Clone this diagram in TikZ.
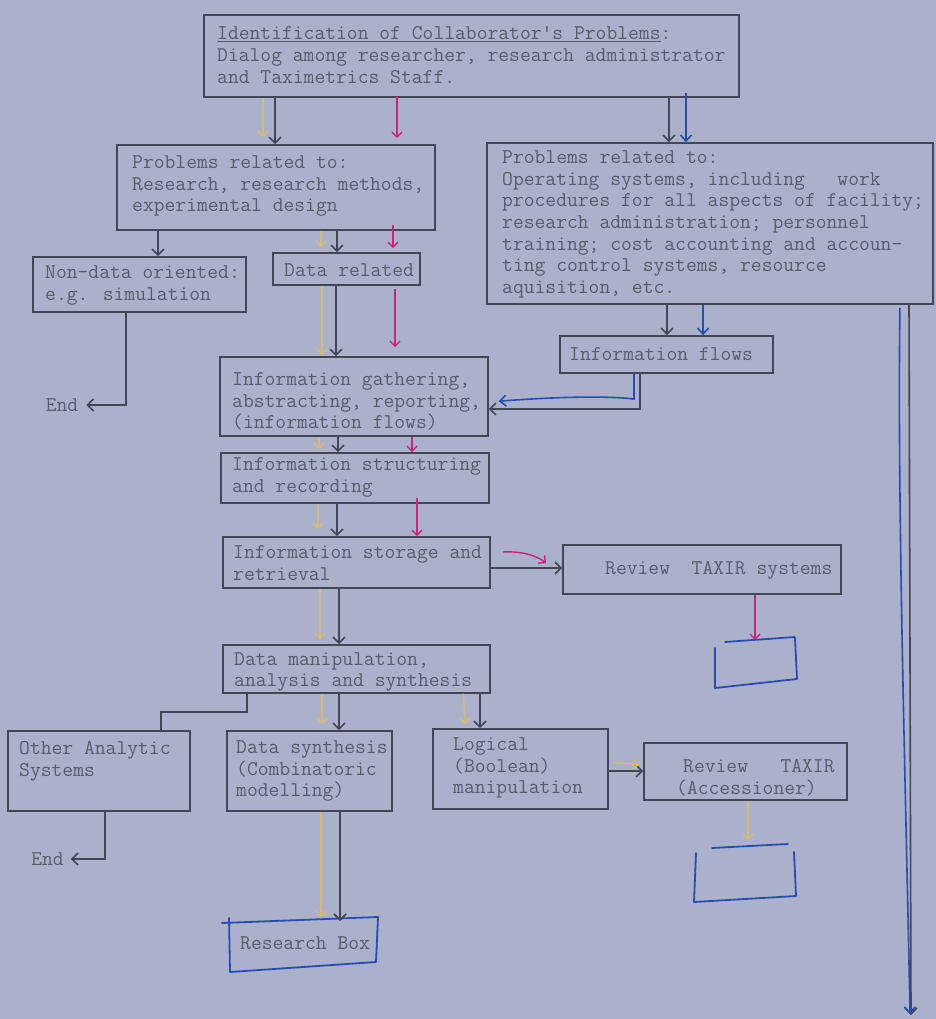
\documentclass[tikz,border=0pt]{standalone}
\usetikzlibrary{arrows.meta,calc}
\definecolor{bg}{RGB}{171,177,202}
\definecolor{linec}{RGB}{66,70,86}
\definecolor{txtc}{RGB}{88,92,108}
\definecolor{yel}{RGB}{216,186,116}
\definecolor{mag}{RGB}{200,38,125}
\definecolor{blu}{RGB}{38,78,176}
\begin{document}
\begin{tikzpicture}[x=1pt,y=-1pt,
  bx/.style={draw=linec,line width=1.6pt,inner sep=0pt},
  tx/.style={font=\ttfamily\fontsize{21}{21.6}\selectfont,text=txtc,align=left,inner sep=0pt,anchor=west},
  gar/.style={draw=linec,line width=1.6pt,-{Straight Barb[length=6pt,width=12pt]}},
  gline/.style={draw=linec,line width=1.6pt},
  yar/.style={draw=yel,line width=1.5pt,-{Straight Barb[length=5pt,width=10pt]}},
  mar/.style={draw=mag,line width=1.4pt,-{Straight Barb[length=5pt,width=10pt]}},
  bar/.style={draw=blu,line width=1.6pt,-{Straight Barb[length=6pt,width=11pt]}},
  bl/.style={draw=blu,line width=1.8pt,line cap=round,line join=round}
]
\useasboundingbox (0,0) rectangle (936,1019);
\fill[bg] (0,0) rectangle (936,1019);

% boxes
\node[bx,minimum width=535pt,minimum height=82pt] (top) at (471.5,56) {};
\node[bx,minimum width=318pt,minimum height=85pt] (lp) at (276,187.5) {};
\node[bx,minimum width=446pt,minimum height=161pt] (rp) at (710,223.5) {};
\node[bx,minimum width=213pt,minimum height=55pt] (nd) at (139.5,284.5) {};
\node[bx,minimum width=147pt,minimum height=32pt] (dr) at (346.5,269) {};
\node[bx,minimum width=213pt,minimum height=37pt] (inf) at (666.5,354.5) {};
\node[bx,minimum width=268pt,minimum height=79pt] (ga) at (354,396.5) {};
\node[bx,minimum width=268pt,minimum height=50pt] (st) at (355,478) {};
\node[bx,minimum width=267pt,minimum height=51pt] (sr) at (356.5,562.5) {};
\node[bx,minimum width=278pt,minimum height=49pt] (rv) at (702,569.5) {};
\node[bx,minimum width=267pt,minimum height=48pt] (dm) at (356.5,669) {};
\node[bx,minimum width=182pt,minimum height=80pt] (oa) at (99,771) {};
\node[bx,minimum width=165pt,minimum height=80pt] (sy) at (309.5,771) {};
\node[bx,minimum width=175pt,minimum height=80pt] (lg) at (520.5,769) {};
\node[bx,minimum width=203pt,minimum height=57pt] (ac) at (745.5,771.5) {};

% texts
\node[tx] (toptx) at (217,55) {\underline{Identification of Collaborator's Problems}:\\Dialog among researcher, research administrator\\and Taximetrics Staff.};
\node[tx] (lptx) at (132,186.3) {Problems related to:\\Research, research methods,\\experimental design};
\node[tx] (rptx) at (502,224.5) {Problems related to:\\Operating systems, including~~~work\\procedures for all aspects of facility;\\research administration; personnel\\training; cost accounting and accoun-\\ting control systems, resource\\aquisition, etc.};
\node[tx] (ndtx) at (45,285.5) {Non-data oriented:\\e.g. simulation};
\node[tx] (drtx) at (284,270) {Data related};
\node[tx] (inftx) at (569,354) {Information flows};
\node[tx] (gatx) at (232,401.7) {Information gathering,\\abstracting, reporting,\\(information flows)};
\node[tx] (sttx) at (232,477.5) {Information structuring\\and recording};
\node[tx] (srtx) at (233,563) {Information storage and\\retrieval};
\node[tx] (rvtx) at (605,570) {Review~~TAXIR systems};
\node[tx] (dmtx) at (234,672) {Data manipulation,\\analysis and synthesis};
\node[tx] (oatx) at (19,761.5) {Other Analytic\\Systems};
\node[tx] (sytx) at (236,771) {Data synthesis\\(Combinatoric\\modelling)};
\node[tx] (lgtx) at (453,768) {Logical\\(Boolean)\\manipulation};
\node[tx] (actx) at (676,777.5) {\hspace*{7pt}Review~~~TAXIR\\(Accessioner)};
\node[tx] (rbtx) at (240,943) {Research Box};
\node[tx,anchor=center,inner xsep=8pt] (e1) at (62,405) {End};
\node[tx,anchor=center,inner xsep=7pt] (e2) at (47.5,859) {End};

% hand-drawn blue boxes
\draw[bl] (725,642) -- (795,637);
\draw[bl] (715,648) -- (715,688) -- (797,679) -- (795,638);
\draw[bl] (712,848) -- (788,844);
\draw[bl] (696,853) -- (694,902) -- (796,896) -- (794,852);
\draw[bl] (222,923) -- (378,917) -- (376,962) -- (230,972) -- (229,918);

% free ends
\coordinate (rbt1) at (340,921);
\coordinate (rbt2) at (321,917);
\coordinate (b1t) at (755,640);
\coordinate (b2t) at (748,840);
\coordinate (endg) at (911,1015);
\coordinate (endb) at (910,1014);
\coordinate (m1) at (503,552);
\coordinate (m2) at (546,563);

% top -> left problems
\draw[yar,shorten >=7pt] (263,0 |- top.south) -- (263,0 |- lp.north);
\draw[gar] (275,0 |- top.south) -- (275,0 |- lp.north);
\draw[mar,shorten <=-2pt,shorten >=6pt] (397,0 |- top.south) -- (397,0 |- lp.north);
% top -> right problems
\draw[gar] (669,0 |- top.south) -- (669,0 |- rp.north);
\draw[bar,shorten <=-5pt] (686,0 |- top.south) -- (686,0 |- rp.north);
% left problems -> non-data / data related
\draw[gar] (158,0 |- lp.south) -- (158,0 |- nd.north);
\draw[yar,shorten >=5pt] (321,0 |- lp.south) -- (321,0 |- dr.north);
\draw[gar] (337,0 |- lp.south) -- (337,0 |- dr.north);
\draw[mar,shorten <=-6pt,shorten >=4pt] (393,0 |- lp.south) -- (393,0 |- dr.north);
% non-data -> End
\draw[gar] (126,0 |- nd.south) |- (e1.east);
% data related -> gathering
\draw[yar,shorten >=1pt] (322,0 |- dr.south) -- (322,0 |- ga.north);
\draw[gar] (336,0 |- dr.south) -- (336,0 |- ga.north);
\draw[mar,shorten <=3pt,shorten >=9pt] (395,0 |- dr.south) -- (395,0 |- ga.north);
% right problems -> information flows
\draw[gar] (667,0 |- rp.south) -- (667,0 |- inf.north);
\draw[bar] (703,0 |- rp.south) -- (703,0 |- inf.north);
% information flows -> gathering
\draw[gar] (640,0 |- inf.south) |- (ga.east |- 0,409);
\draw[bar,shorten >=10pt] (634,0 |- inf.south) -- (634,399) .. controls (600,395) and (540,398) .. (ga.east |- 0,402);
% gathering -> structuring
\draw[yar,shorten >=3pt] (319,0 |- ga.south) -- (319,0 |- st.north);
\draw[gar] (338,0 |- ga.south) -- (338,0 |- st.north);
\draw[mar] (412,0 |- ga.south) -- (412,0 |- st.north);
% structuring -> storage
\draw[yar,shorten >=7pt] (318,0 |- st.south) -- (318,0 |- sr.north);
\draw[gar] (337,0 |- st.south) -- (337,0 |- sr.north);
\draw[mar,shorten <=-6pt] (417,0 |- st.south) -- (417,0 |- sr.north);
% storage -> review TAXIR systems
\draw[gar] (sr.east |- 0,568) -- (rv.west |- 0,568);
\draw[mar] (m1) .. controls (520,551) and (536,555) .. (m2);
\draw[mar] (755,0 |- rv.south) -- (b1t);
% storage -> data manipulation
\draw[yar,shorten >=5pt] (320,0 |- sr.south) -- (320,0 |- dm.north);
\draw[gar] (339,0 |- sr.south) -- (339,0 |- dm.north);
% data manipulation -> others
\draw[gline] (247,0 |- dm.south) |- (161,712) -- (161,0 |- oa.north);
\draw[yar,shorten >=6pt] (322,0 |- dm.south) -- (322,0 |- sy.north);
\draw[gar] (339,0 |- dm.south) -- (339,0 |- sy.north);
\draw[yar,shorten >=4pt] (463,0 |- dm.south) -- (466,0 |- lg.north);
\draw[gar] (480,0 |- dm.south) -- (480,0 |- lg.north);
% other analytic -> End
\draw[gar] (105,0 |- oa.south) |- (e2.east);
% synthesis -> research box
\draw[yar] (321,0 |- sy.south) -- (rbt2);
\draw[gar] (340,0 |- sy.south) -- (rbt1);
% logical -> accessioner
\draw[gar] (lg.east |- 0,771) -- (ac.west |- 0,771);
\draw[yar,shorten <=5pt,shorten >=4pt] (lg.east |- 0,762) -- (ac.west |- 0,765);
\draw[yar] (748,0 |- ac.south) -- (b2t);
% right problems -> down
\draw[gar] (909,0 |- rp.south) -- (endg);
\draw[bar,shorten <=3pt] (900,0 |- rp.south) .. controls (897,500) and (906,800) .. (endb);
\end{tikzpicture}
\end{document}
